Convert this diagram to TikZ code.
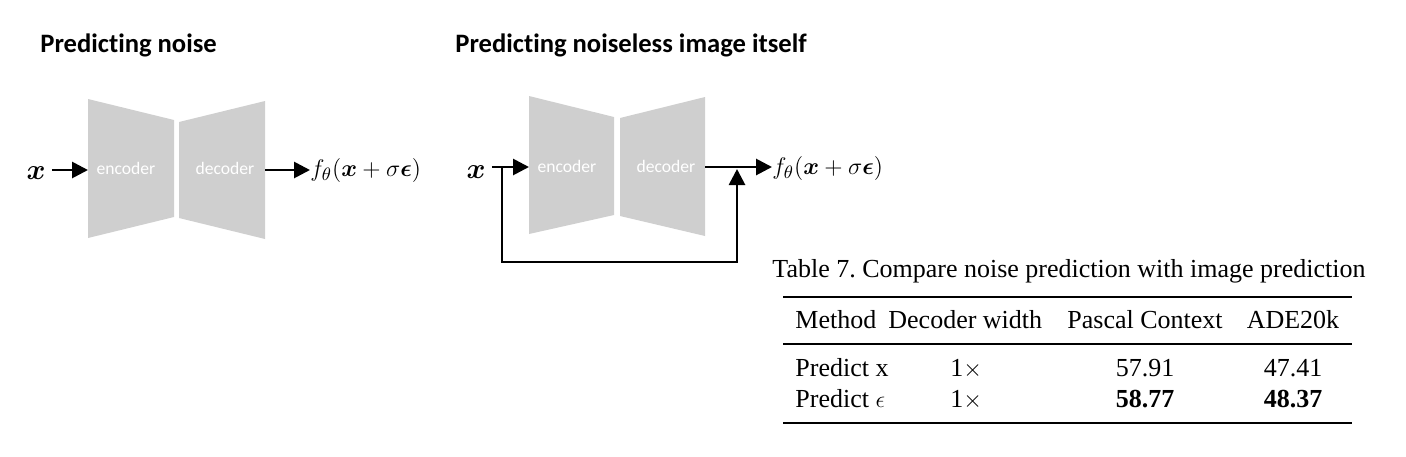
\documentclass[tikz,border=0pt]{standalone}
\usepackage{amsmath,bm}
\usepackage{fontspec}
\setmainfont{Liberation Serif}
\newfontfamily\titlefont[Ligatures=NoCommon]{Carlito}
\usetikzlibrary{arrows.meta}
\definecolor{blockgray}{RGB}{207,207,207}
\tikzset{
  ttl/.style={font=\titlefont\bfseries\fontsize{13.3}{15}\selectfont, anchor=base west, inner sep=0pt},
  blk/.style={fill=blockgray, draw=none},
  blktxt/.style={font=\titlefont\fontsize{8.8}{10}\selectfont, text=white, inner sep=0pt},
  mathlbl/.style={font=\fontsize{12.9}{15}\selectfont, inner sep=0pt},
  xlbl/.style={font=\fontsize{14.5}{16}\selectfont, inner sep=0pt},
  arr/.style={line width=1.4pt, -{Triangle[length=8pt,width=8pt]}},
  tbl/.style={font=\fontsize{13}{15}\selectfont, inner sep=0pt},
  rulethick/.style={line width=1.0pt},
  rulethin/.style={line width=0.6pt},
}
\frenchspacing
\begin{document}
\begin{tikzpicture}[x=0.5pt,y=-0.5pt]
\useasboundingbox (0,0) rectangle (1406,456);

% ---------- titles
\node[ttl] (t1) at (40,52) {Predicting noise};
\node[ttl] (t2) at (455,52) {Predicting noiseless image itself};

% ---------- left diagram
\fill[blk] (88,99) -- (174,120) -- (174,217) -- (88,238) -- cycle;
\fill[blk] (179,122) -- (265,101) -- (265,239) -- (179,218) -- cycle;
\node[blktxt] (enc1) at (126,168) {encoder};
\node[blktxt] (dec1) at (225,168) {decoder};
\coordinate (enc1w) at (88,170);
\coordinate (dec1e) at (265,170);
\node[xlbl] (x1) at (36,173) {$\boldsymbol{x}$};
\node[mathlbl, anchor=base west] (f1) at (310,176) {$f_\theta(\boldsymbol{x}+\sigma\boldsymbol{\epsilon})$};
\draw[arr] (x1.east|-enc1w) ++(6,0) -- (enc1w);
\draw[arr] (dec1e) -- (f1.west|-dec1e);

% ---------- right diagram
\fill[blk] (529,96) -- (614,117) -- (614,215) -- (529,234) -- cycle;
\fill[blk] (620,118) -- (705,97) -- (705,236) -- (620,216) -- cycle;
\node[blktxt] (enc2) at (567,166) {encoder};
\node[blktxt] (dec2) at (666,166) {decoder};
\coordinate (enc2w) at (529,167);
\coordinate (dec2e) at (705,167);
\coordinate (jn) at (502,167);
\coordinate (tap) at (737,169);
\coordinate (low) at (502,262);
\node[xlbl] (x2) at (476,172) {$\boldsymbol{x}$};
\node[mathlbl, anchor=base west] (f2) at (772,174) {$f_\theta(\boldsymbol{x}+\sigma\boldsymbol{\epsilon})$};
\draw[arr] (x2.east|-enc2w) ++(6,0) -- (enc2w);
\draw[arr] (dec2e) -- (f2.west|-dec2e);
\draw[arr] (jn) -- (low) -- (tap|-low) -- (tap);

% ---------- table
\node[tbl, anchor=base west] (cap) at (772,277) {Table 7. Compare noise prediction with image prediction};
\coordinate (rl1) at (783,297);
\coordinate (rr1) at (1352,297);
\coordinate (rl2) at (783,344);
\coordinate (rr2) at (1352,344);
\coordinate (rl3) at (783,423);
\coordinate (rr3) at (1352,423);
\draw[rulethick] (rl1) -- (rr1);
\draw[rulethin] (rl2) -- (rr2);
\draw[rulethick] (rl3) -- (rr3);

\node[tbl, anchor=base west] (h1) at (795,328) {Method};
\node[tbl, anchor=base west] (h2) at (888,328) {Decoder width};
\node[tbl, anchor=base] (h3) at (1145,328) {Pascal Context};
\node[tbl, anchor=base] (h4) at (1293,328) {ADE20k};

\node[tbl, anchor=base west] (a1) at (795,376) {Predict x};
\node[tbl, anchor=base west] (a2) at (950,376) {1$\times$};
\node[tbl, anchor=base] (a3) at (1145,376) {57.91};
\node[tbl, anchor=base] (a4) at (1293,376) {47.41};

\node[tbl, anchor=base west] (b1) at (795,407) {Predict $\epsilon$};
\node[tbl, anchor=base west] (b2) at (950,407) {1$\times$};
\node[tbl, anchor=base, font=\fontsize{13}{15}\selectfont\bfseries] (b3) at (1145,407) {58.77};
\node[tbl, anchor=base, font=\fontsize{13}{15}\selectfont\bfseries] (b4) at (1293,407) {48.37};
\end{tikzpicture}
\end{document}
